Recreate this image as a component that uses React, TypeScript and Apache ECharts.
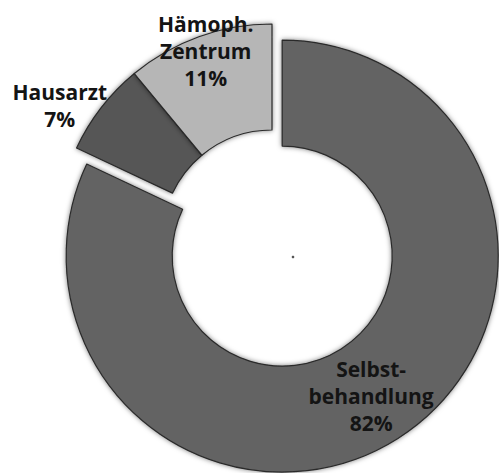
import React, { useEffect, useRef } from "react";
import * as echarts from "echarts";

const categories = ["Selbst-\nbehandlung", "Hausarzt", "Hämoph.\nZentrum"];
const values = [82, 7, 11];
const colors = ["#636363", "#575757", "#b6b6b6"];
const labelShift = [
  [0, 0],
  [-81, -33],
  [-10, -33],
];

export default function App() {
  const ref = useRef<HTMLDivElement>(null);
  useEffect(() => {
    if (!ref.current) return;
    const chart = echarts.init(ref.current, undefined, { renderer: "svg" });
    chart.setOption({
      animation: false,
      backgroundColor: "#ffffff",
      series: [
        {
          type: "pie",
          center: [272, 240],
          radius: [110, 216],
          startAngle: 90,
          clockwise: true,
          selectedMode: "single",
          selectedOffset: 19,
          avoidLabelOverlap: false,
          emphasis: { disabled: true },
          label: {
            show: true,
            position: "inside",
            formatter: (p: any) => `${p.name}\n${p.value}%`,
            fontFamily: "Open Sans",
            fontWeight: "bold",
            fontSize: 21,
            lineHeight: 27,
            color: "#141414",
            align: "center",
          },
          labelLine: { show: false },
          labelLayout: (p: any) => ({
            dx: labelShift[p.dataIndex][0],
            dy: labelShift[p.dataIndex][1],
          }),
          itemStyle: {
            borderColor: "#2a2a2a",
            borderWidth: 1.2,
            shadowBlur: 5,
            shadowColor: "rgba(0,0,0,0.5)",
          },
          data: categories.map((c, i) => ({
            name: c,
            value: values[i],
            selected: i === 0,
            itemStyle: { color: colors[i] },
          })),
        },
      ],
      graphic: [
        {
          type: "circle",
          shape: { cx: 293, cy: 257, r: 1.3 },
          style: { fill: "#555" },
          silent: true,
        },
      ],
    });
    return () => chart.dispose();
  }, []);
  return (
    <div
      ref={ref}
      style={{ position: "fixed", left: 0, top: 0, width: 499, height: 473 }}
    />
  );
}
